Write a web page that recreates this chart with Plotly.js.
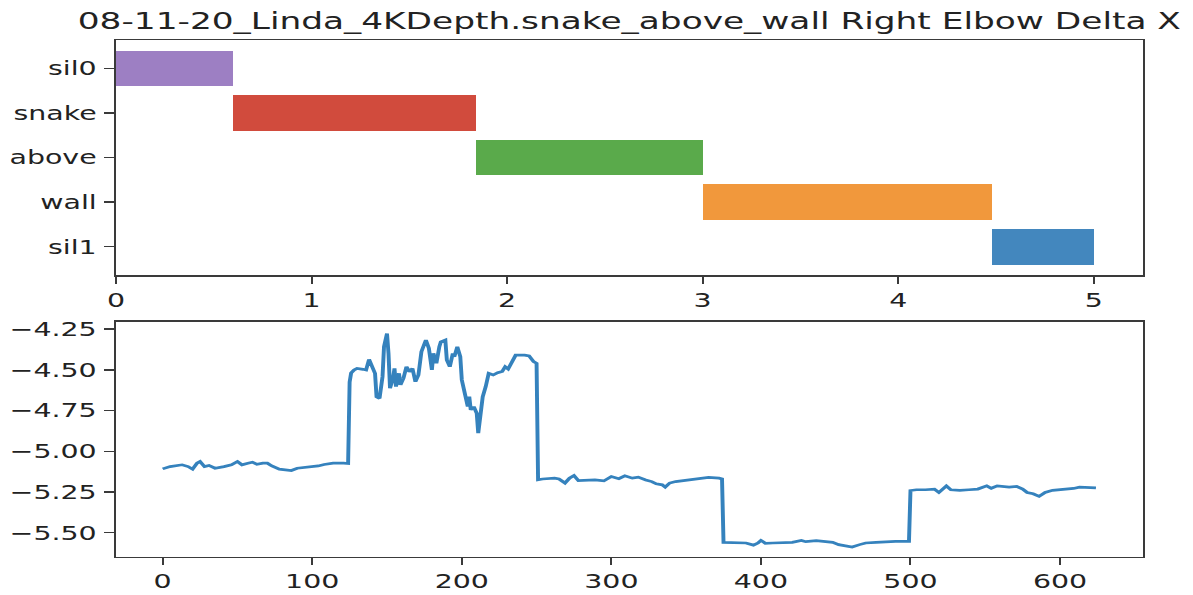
<!DOCTYPE html>
<html>
<head>
<meta charset="utf-8">
<script src="https://cdn.plot.ly/plotly-3.0.1.min.js"></script>
<style>
  html, body { margin: 0; padding: 0; background: #fff; }
  #wrap { width: 1193px; height: 595px; overflow: hidden; position: relative; }
  #plot { width: 823px; height: 595px; transform: scaleX(1.45); transform-origin: 0 0; }
</style>
</head>
<body>
<div id="wrap"><div id="plot"></div></div>
<script>
// ---- phase segments (top panel) ----
const phaseNames = ['sil0', 'snake', 'above', 'wall', 'sil1'];
const phaseStart = [0, 0.6, 1.84, 3.0, 4.48];
const phaseEnd   = [0.6, 1.84, 3.0, 4.48, 5.0];
const phaseColors = ['#9d7fc3', '#d14b3d', '#5aaa4b', '#f1983c', '#4387be'];

// ---- Right Elbow Delta X (bottom panel) ----
const frames = [0,5,13,17,20,23,25,28,31,35,41,46,50,53,57,60,63,67,70,73,78,86,90,97,104,108,114,121,124,
  125,126,128,130,134,136,138,140,142,143,145,147,148,150,151,152,154,155,156,158,159,161,163,165,167,169,171,173,176,178,180,181,183,185,186,189,190,192,194,195,197,199,200,202,204,205,206,208,210,211,213,214,216,218,221,224,227,229,231,233,236,239,242,245,248,250,
  251,254,258,262,265,269,272,275,278,282,289,295,300,305,309,314,318,323,327,330,334,336,339,343,349,356,361,365,372,374,
  375,383,390,395,398,400,403,408,414,421,427,430,437,443,448,452,457,461,466,470,477,483,490,498,499,
  500,504,510,516,519,522,524,527,533,539,545,551,554,558,562,566,571,575,578,582,586,590,595,602,609,613,624];
const deltaX = [-5.108,-5.094,-5.083,-5.094,-5.110,-5.073,-5.063,-5.094,-5.087,-5.104,-5.094,-5.083,-5.063,-5.083,-5.073,-5.067,-5.080,-5.073,-5.073,-5.090,-5.110,-5.118,-5.104,-5.097,-5.090,-5.081,-5.073,-5.073,-5.075,
  -4.575,-4.520,-4.501,-4.491,-4.497,-4.501,-4.436,-4.481,-4.522,-4.665,-4.675,-4.542,-4.358,-4.277,-4.399,-4.613,-4.552,-4.491,-4.603,-4.521,-4.593,-4.552,-4.481,-4.512,-4.491,-4.573,-4.532,-4.389,-4.317,-4.368,-4.501,-4.399,-4.460,-4.358,-4.328,-4.317,-4.440,-4.481,-4.399,-4.420,-4.358,-4.420,-4.562,-4.644,-4.726,-4.665,-4.746,-4.726,-4.767,-4.889,-4.767,-4.665,-4.603,-4.522,-4.532,-4.518,-4.510,-4.481,-4.495,-4.460,-4.410,-4.410,-4.410,-4.415,-4.450,-4.460,
  -5.175,-5.170,-5.168,-5.165,-5.170,-5.195,-5.165,-5.149,-5.180,-5.180,-5.176,-5.182,-5.155,-5.168,-5.151,-5.165,-5.159,-5.176,-5.186,-5.200,-5.206,-5.220,-5.195,-5.186,-5.180,-5.172,-5.165,-5.160,-5.165,-5.170,
  -5.559,-5.559,-5.563,-5.576,-5.563,-5.547,-5.565,-5.563,-5.563,-5.559,-5.547,-5.555,-5.549,-5.553,-5.559,-5.573,-5.580,-5.588,-5.573,-5.563,-5.559,-5.555,-5.553,-5.553,-5.553,
  -5.241,-5.236,-5.236,-5.232,-5.253,-5.227,-5.212,-5.236,-5.240,-5.236,-5.232,-5.212,-5.227,-5.212,-5.216,-5.220,-5.216,-5.232,-5.253,-5.261,-5.277,-5.253,-5.240,-5.236,-5.228,-5.220,-5.225];

const topXTicks = [0, 1, 2, 3, 4, 5];
const botXTicks = [0, 100, 200, 300, 400, 500, 600];
const botYTicks = [-5.5, -5.25, -5.0, -4.75, -4.5, -4.25];

const FONT = 'DejaVu Sans, Liberation Sans, sans-serif';

const barTrace = {
  type: 'bar', orientation: 'h',
  y: phaseNames,
  x: phaseEnd.map((e, i) => e - phaseStart[i]),
  base: phaseStart,
  width: 0.8,
  marker: { color: phaseColors, line: { width: 0 } },
  xaxis: 'x', yaxis: 'y',
  hoverinfo: 'skip', showlegend: false
};

const lineTrace = {
  type: 'scatter', mode: 'lines',
  x: frames, y: deltaX,
  line: { color: '#3582bd', width: 2.7 },
  xaxis: 'x2', yaxis: 'y2',
  hoverinfo: 'skip', showlegend: false
};

const axCommon = {
  showline: true, mirror: true, linecolor: '#3a3a3a', linewidth: 1.4,
  ticks: 'outside', ticklen: 7, tickwidth: 1.4, tickcolor: '#3a3a3a',
  showgrid: false, zeroline: false,
  tickfont: { family: FONT, size: 19.6, color: '#222' }
};

const layout = {
  width: 823, height: 595,
  margin: { l: 80, r: 35, t: 40, b: 38 },
  paper_bgcolor: '#fff', plot_bgcolor: '#fff',
  title: {
    text: '08-11-20_Linda_4KDepth.snake_above_wall Right Elbow Delta X',
    font: { family: FONT, size: 23.7, color: '#222' },
    x: 0.5, xref: 'paper', xanchor: 'center',
    y: 1 - 20.5 / 595, yref: 'container', yanchor: 'middle'
  },
  xaxis: Object.assign({}, axCommon, {
    anchor: 'y', domain: [0, 1], range: [0, 5.25],
    tickmode: 'array', tickvals: topXTicks, ticktext: topXTicks.map(String)
  }),
  yaxis: Object.assign({}, axCommon, {
    anchor: 'x', domain: [0.545, 1], type: 'category',
    categoryorder: 'array', categoryarray: phaseNames,
    range: [4.64, -0.64], ticklabelstandoff: 1
  }),
  xaxis2: Object.assign({}, axCommon, {
    anchor: 'y2', domain: [0, 1], range: [-31.2, 655.2],
    tickmode: 'array', tickvals: botXTicks, ticktext: botXTicks.map(String),
    ticklabelstandoff: -1
  }),
  yaxis2: Object.assign({}, axCommon, {
    anchor: 'x2', domain: [0, 0.455], range: [-5.649, -4.205],
    tickmode: 'array', tickvals: botYTicks, ticktext: botYTicks.map(v => (v < 0 ? '\u2212' : '') + Math.abs(v).toFixed(2)),
    ticklabelstandoff: 1
  }),
  bargap: 0
};

Plotly.newPlot('plot', [barTrace, lineTrace], layout, { displayModeBar: false, staticPlot: true });
</script>
</body>
</html>
